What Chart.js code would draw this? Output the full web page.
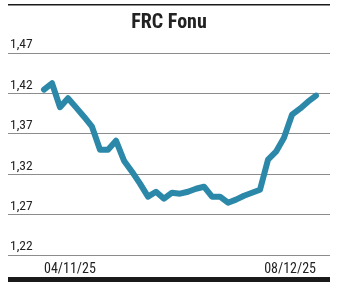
<!DOCTYPE html>
<html>
<head>
<meta charset="utf-8">
<script src="https://cdn.jsdelivr.net/npm/chart.js@4.4.1/dist/chart.umd.min.js"></script>
<style>
  html, body { margin: 0; padding: 0; background: #fff; }
  #wrap { width: 344px; height: 285px; position: relative; }
</style>
</head>
<body>
<div id="wrap"><canvas id="fundChart"></canvas></div>
<script>
const chartTitle = "FRC Fonu";

// one value per calendar day, 04/11/25 .. 08/12/25
const dates = [
  "04/11/25","05/11/25","06/11/25","07/11/25","08/11/25","09/11/25","10/11/25",
  "11/11/25","12/11/25","13/11/25","14/11/25","15/11/25","16/11/25","17/11/25",
  "18/11/25","19/11/25","20/11/25","21/11/25","22/11/25","23/11/25","24/11/25",
  "25/11/25","26/11/25","27/11/25","28/11/25","29/11/25","30/11/25","01/12/25",
  "02/12/25","03/12/25","04/12/25","05/12/25","06/12/25","07/12/25","08/12/25"
];
const prices = [
  1.4246, 1.4326, 1.4029, 1.4141, 1.4027, 1.3912, 1.3788,
  1.3503, 1.3503, 1.3615, 1.3367, 1.3231, 1.3083, 1.2922,
  1.2983, 1.2897, 1.2971, 1.2959, 1.2983, 1.3020, 1.3045,
  1.2922, 1.2922, 1.2847, 1.2885, 1.2934, 1.2971, 1.3008,
  1.3380, 1.3478, 1.3652, 1.3936, 1.4011, 1.4097, 1.4172
];
const yTicks = [1.22, 1.27, 1.32, 1.37, 1.42, 1.47];

const family = "'Roboto Condensed', 'DejaVu Sans Condensed', sans-serif";

// thin rule on top, thick bar at the bottom
const frameRules = {
  id: 'frameRules',
  afterDraw(chart) {
    const ctx = chart.ctx;
    const a = chart.chartArea;
    ctx.save();
    ctx.fillStyle = '#1a1a1a';
    ctx.fillRect(a.left, 4, a.right - a.left, 1.5);
    ctx.fillRect(a.left, 277, a.right - a.left, 5);
    ctx.restore();
  }
};

new Chart(document.getElementById('fundChart'), {
  type: 'line',
  data: {
    datasets: [{
      data: prices.map((v, i) => ({ x: i, y: v })),
      borderColor: '#2b88a8',
      borderWidth: 6,
      borderJoinStyle: 'round',
      borderCapStyle: 'round',
      pointRadius: 0,
      tension: 0
    }]
  },
  options: {
    responsive: true,
    maintainAspectRatio: false,
    animation: false,
    layout: { padding: { left: 8, right: 14, top: 0, bottom: 0 } },
    plugins: {
      legend: { display: false },
      tooltip: { enabled: false },
      title: {
        display: true,
        text: chartTitle,
        color: '#222',
        font: { family: family, size: 20, weight: 'bold' },
        padding: { top: 11, bottom: 18 }
      }
    },
    scales: {
      x: {
        type: 'linear',
        min: -4.5,
        max: 35.75,
        afterBuildTicks(axis) {
          axis.ticks = [{ value: 0 }, { value: dates.length - 1 }];
        },
        afterFit(axis) { axis.height = 30; },
        grid: { display: false },
        border: { display: false },
        ticks: {
          autoSkip: false,
          maxRotation: 0,
          align: 'inner',
          padding: -2,
          color: '#222',
          font: { family: family, size: 14 },
          callback: (v) => dates[v]
        }
      },
      y: {
        min: 1.22,
        max: 1.47,
        afterBuildTicks(axis) {
          axis.ticks = yTicks.map(v => ({ value: v }));
        },
        afterFit(axis) { axis.width = 0; },
        grid: { color: '#8c8c8c', lineWidth: 1, drawTicks: false },
        border: { display: false },
        ticks: {
          mirror: true,
          padding: 2,
          labelOffset: -8,
          color: '#222',
          font: { family: family, size: 13.5 },
          callback: (v) => v.toFixed(2).replace('.', ',')
        }
      }
    }
  },
  plugins: [frameRules]
});
</script>
</body>
</html>
